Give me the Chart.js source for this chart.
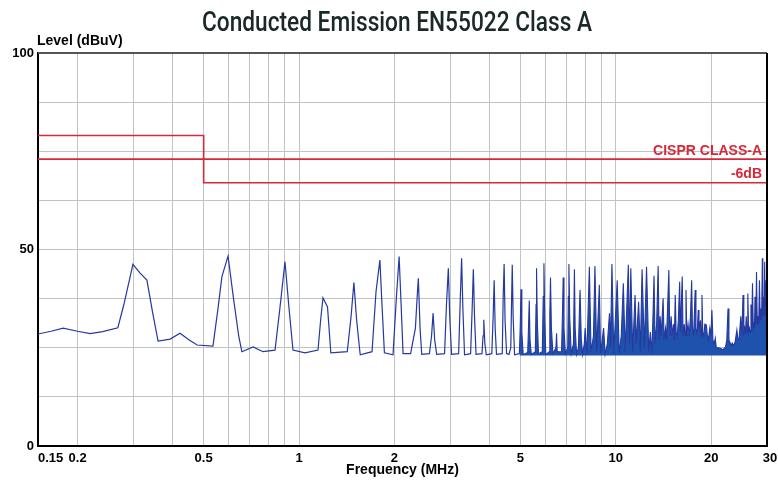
<!DOCTYPE html>
<html>
<head>
<meta charset="utf-8">
<script src="https://cdn.jsdelivr.net/npm/chart.js@4.4.1/dist/chart.umd.min.js"></script>
<style>
html,body{margin:0;padding:0;background:#fff;}
#wrap{width:778px;height:483px;position:relative;}
</style>
</head>
<body>
<div id="wrap"><canvas id="c" width="778" height="483"></canvas></div>
<script>
// ---- data (frequency in MHz, level in dBuV) ----
const chartTitle = 'Conducted Emission EN55022 Class A';
const yAxisTitle = 'Level (dBuV)';
const xAxisTitle = 'Frequency (MHz)';

const xTickValues = [0.15,0.2,0.3,0.4,0.5,0.6,0.7,0.8,0.9,1,2,3,4,5,6,7,8,9,10,20,30];
const xTickLabels = ['0.15','0.2','0.5','1','2','5','10','20','30'];
const yTickLabels = [0,50,100];

const cisprFreq   = [0.15, 0.5, 0.5, 30];
const cisprLevel  = [79, 79, 73, 73];
const minus6Freq  = [0.15, 0.5, 0.5, 30];
const minus6Level = [73, 73, 67, 67];

// measured spectrum, 0.15 - 5 MHz
const lowBandPoints = [
 [0.15,28.5],[0.165,29.2],[0.18,30.0],[0.2,29.2],[0.219,28.6],[0.24,29.1],[0.268,30.1],
 [0.28,36],[0.299,46.2],[0.315,44],[0.331,42.2],[0.345,34],[0.359,26.7],[0.392,27.2],
 [0.421,28.7],[0.45,27],[0.477,25.7],[0.535,25.4],[0.555,35],[0.571,43.1],[0.597,48.3],
 [0.62,38],[0.645,28],[0.66,24.0],[0.716,25.2],[0.77,24.0],[0.84,24.4],[0.87,35],
 [0.903,46.9],[0.93,35],[0.957,24.4],[1.044,23.7],[1.148,24.4],[1.17,32],[1.19,37.7],
 [1.23,35.4],[1.26,23.7],[1.42,24],[1.46,33],[1.49,41.6],[1.52,32],[1.56,23.2],
 [1.70,24],[1.75,39.3],[1.80,47.3],[1.83,35],[1.86,23.7],[1.98,23.2],[2.03,38],
 [2.07,48.2],[2.10,36],[2.13,23.5],[2.25,23.5],[2.33,30],[2.36,38],[2.38,42.7],
 [2.41,30],[2.44,23.3],[2.58,23.5],[2.62,28],[2.65,33.8],[2.68,27],[2.72,23.3],
 [2.88,23.5],[2.92,36],[2.96,45.2],[2.99,33],[3.03,23.3],[3.19,23.5],[3.23,38],
 [3.26,47.8],[3.29,35],[3.33,23.2],[3.48,23.5],[3.52,35],[3.55,45.0],[3.58,33],
 [3.62,23.3],[3.78,23.5],[3.81,28],[3.83,32.1],[3.86,26],[3.9,23.2],[4.06,23.5],
 [4.10,33],[4.13,42.2],[4.16,30],[4.2,23.3],[4.38,23.5],[4.41,38],[4.44,46.3],
 [4.47,32],[4.52,23.5],[4.6,23.3],[4.66,25],[4.69,38],[4.71,46.1],[4.74,33],
 [4.79,23.2],[4.96,23.5]
];
// measured spectrum, 5 - 30 MHz (dense harmonics)
const highBandPoints = [
 [4.96,23.5],[4.99,30],[5.02,39.9],[5.05,29],[5.1,23.3],[5.27,23.8],[5.30,30],[5.33,37],
 [5.36,27],[5.41,23.3],[5.57,24],[5.60,36],[5.62,45.2],[5.65,32],[5.70,23.5],[5.86,24],
 [5.90,38],[5.93,46.5],[5.96,34],[6.01,23.3],[6.16,24],[6.19,34],[6.22,42.9],[6.26,30],
 [6.33,23.5],[6.47,25],[6.5,28.7],[6.53,24],[6.74,24],[6.79,35],[6.82,42.9],[6.86,30],
 [6.93,23.5],[7.05,25],[7.08,38],[7.11,46.3],[7.15,33],[7.23,23.5],[7.35,26],[7.4,45.0],
 [7.44,30],[7.52,23.3],[7.62,25],[7.68,35.4],[7.71,39.7],[7.78,27],[7.86,23.3],[7.95,26],
 [8.0,30],[8.1,23.3],[8.25,45.6],[8.35,24],[8.5,28],[8.59,45.8],[8.7,24],[8.87,41],
 [8.95,23.5],[9.15,30],[9.25,23.3],[9.4,26],[9.55,33.8],[9.62,25],[9.72,46.3],[9.85,23.5],
 [10.1,42.2],[10.25,23.5],[10.4,28],[10.56,41.4],[10.7,24],[10.95,46.1],[11.05,26],
 [11.15,45.2],[11.3,24],[11.5,38.4],[11.6,26],[11.8,36.7],[11.95,24],[12.1,45],[12.3,25],
 [12.5,45.6],[12.7,24],[12.85,29],[13.0,23.5],[13.2,43.3],[13.3,26],[13.45,31],[13.6,45.8],
 [13.7,27],[13.8,33],[13.9,28],[14.1,37.6],[14.2,27],[14.35,30],[14.45,27],[14.7,44.8],
 [14.8,28],[14.95,33],[15.05,28],[15.2,31],[15.3,27],[15.4,38.4],[15.5,29],[15.6,27],
 [15.75,32],[15.9,41.8],[16.0,29],[16.2,43.1],[16.3,28],[16.45,31],[16.55,28],[16.65,39.7],
 [16.75,28],[16.9,31],[17.05,28],[17.2,33],[17.35,42.2],[17.45,30],[17.6,28],[17.8,39.7],
 [17.9,30],[18.05,28],[18.2,34.6],[18.3,29],[18.5,32],[18.6,28],[18.7,38.4],[18.8,29],
 [18.95,28],[19.1,31],[19.3,30.8],[19.45,28],[19.6,27],[19.8,30],[19.95,28],[20.1,34.6],
 [20.25,27],[20.45,26],[20.6,27.4],[20.75,25],[21.0,25],[21.3,24.9],[21.8,24.5],[22.2,25.2],
 [22.4,27],[22.6,35],[22.75,27],[22.9,26.5],[23.1,25.5],[23.3,26.2],[23.5,25.5],[23.8,26.5],
 [24.1,29.5],[24.3,27],[24.5,27.5],[24.8,33],[25.0,28],[25.2,38.4],[25.35,29],[25.5,30],
 [25.65,28.5],[25.8,33],[25.95,29],[26.1,38.8],[26.25,29],[26.4,30],[26.55,29],[26.7,36],
 [26.85,30],[27.0,41.4],[27.15,30],[27.3,31],[27.4,30],[27.5,38],[27.65,31],[27.8,44.3],
 [27.95,31],[28.1,33],[28.25,31],[28.4,42.2],[28.55,32],[28.7,35],[28.85,32],[29.0,47.8],
 [29.1,33],[29.2,38],[29.35,33],[29.5,46.9],[29.6,34],[29.65,36],[29.75,33],[29.8,42.2],
 [29.9,28],[30,24]
];

// ---- build ----
const toXY = pts => pts.map(p => ({x:p[0], y:p[1]}));
const zip = (xs, ys) => xs.map((x,i) => ({x:x, y:ys[i]}));

const RED = 'rgb(214,40,56)';
const BLUE = 'rgb(36,56,160)';
const BLUE2 = 'rgb(30,82,172)';
const GRID = 'rgb(192,194,198)';
const SANS = '"Liberation Sans", Arial, sans-serif';

const decorPlugin = {
  id: 'decor',
  afterDraw(chart) {
    const {ctx, chartArea: a, scales} = chart;
    ctx.save();
    // top & right frame
    ctx.lineWidth = 2;
    ctx.strokeStyle = '#555';
    ctx.beginPath(); ctx.moveTo(a.left, a.top); ctx.lineTo(a.right, a.top); ctx.stroke();
    ctx.strokeStyle = '#000';
    ctx.beginPath(); ctx.moveTo(a.right, a.top); ctx.lineTo(a.right, a.bottom+1); ctx.stroke();
    // x tick labels
    ctx.fillStyle = '#000';
    ctx.font = 'bold 13px ' + SANS;
    ctx.textBaseline = 'top';
    xTickValues.forEach(v => {
      const t = String(v);
      if (!xTickLabels.includes(t)) return;
      const px = scales.x.getPixelForValue(v);
      if (v === xTickValues[0]) { ctx.textAlign = 'left'; ctx.fillText(t, px, a.bottom + 6); }
      else if (v === xTickValues[xTickValues.length-1]) { ctx.textAlign = 'center'; ctx.fillText(t, px + 3, a.bottom + 6); }
      else { ctx.textAlign = 'center'; ctx.fillText(t, px, a.bottom + 6); }
    });
    // title (condensed look)
    ctx.textBaseline = 'alphabetic';
    ctx.fillStyle = '#1a2828';
    ctx.font = '500 28px Roboto, "Liberation Sans", sans-serif';
    const w = ctx.measureText(chartTitle).width;
    const sx = 390 / w;
    ctx.save();
    ctx.translate(397, 31);
    ctx.scale(sx, 1);
    ctx.textAlign = 'center';
    ctx.fillText(chartTitle, 0, 0);
    ctx.restore();
    // y axis title
    ctx.fillStyle = '#000';
    ctx.font = 'bold 14px ' + SANS;
    ctx.textAlign = 'left';
    ctx.fillText(yAxisTitle, 37, 45);
    // limit labels
    ctx.fillStyle = RED;
    ctx.font = 'bold 14px ' + SANS;
    ctx.textAlign = 'right';
    ctx.fillText('CISPR CLASS-A', a.right - 5, scales.y.getPixelForValue(cisprLevel[3]) - 4);
    ctx.fillText('-6dB', a.right - 5, scales.y.getPixelForValue(minus6Level[3]) - 5);
    ctx.restore();
  }
};

new Chart(document.getElementById('c'), {
  type: 'line',
  data: {
    datasets: [
      {label:'CISPR CLASS-A', data: zip(cisprFreq, cisprLevel), borderColor: RED, borderWidth: 1.6, pointRadius: 0, fill: false, order: 0},
      {label:'-6dB', data: zip(minus6Freq, minus6Level), borderColor: RED, borderWidth: 1.6, pointRadius: 0, fill: false, order: 0},
      {label:'Level low', data: toXY(lowBandPoints), borderColor: BLUE, borderWidth: 1.2, pointRadius: 0, fill: false, order: 1},
      {label:'Level high', data: toXY(highBandPoints), borderColor: BLUE, borderWidth: 1.1, pointRadius: 0,
       fill: {value: 23}, backgroundColor: BLUE2, order: 1}
    ]
  },
  options: {
    responsive: false,
    animation: false,
    devicePixelRatio: 1,
    layout: {padding: {left: 0, right: 11, top: 53, bottom: 0}},
    plugins: {legend: {display: false}, tooltip: {enabled: false}, title: {display: false}},
    elements: {line: {tension: 0}},
    scales: {
      x: {
        type: 'logarithmic', min: 0.15, max: 30,
        afterBuildTicks(s) { s.ticks = xTickValues.map(v => ({value: v})); },
        afterFit(s) { s.height = 37; },
        ticks: { display: false, autoSkip: false, maxRotation: 0, minRotation: 0 },
        grid: {color: GRID, lineWidth: 1, drawTicks: false},
        border: {color: '#000', width: 2},
        title: {display: true, text: xAxisTitle, color: '#000', padding: {top: 0, bottom: 4},
                font: {family: SANS, size: 14, weight: 'bold'}}
      },
      y: {
        min: 0, max: 100,
        afterFit(s) { s.width = 38; },
        ticks: {
          stepSize: 12.5, padding: 4, color: '#000',
          font: {family: SANS, size: 13, weight: 'bold'},
          callback(v) { return yTickLabels.includes(v) ? String(v) : ''; }
        },
        grid: {color: GRID, lineWidth: 1, drawTicks: false},
        border: {color: '#000', width: 2}
      }
    }
  },
  plugins: [decorPlugin]
});
</script>
</body>
</html>
